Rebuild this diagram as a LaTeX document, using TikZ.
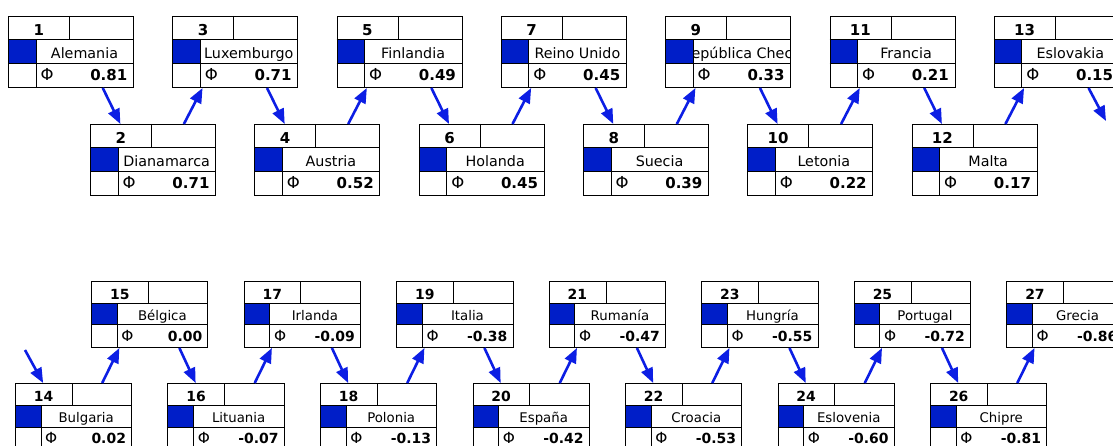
\documentclass[tikz,border=0pt]{standalone}
\usepackage{fontspec}
\setmainfont{DejaVu Sans}
\usetikzlibrary{arrows.meta,calc}
\definecolor{flagblue}{RGB}{0,30,200}
\definecolor{linkblue}{RGB}{12,30,228}
\tikzset{
  box/.style={draw, line width=1pt, anchor=north west, minimum width=125pt, minimum height=71pt, inner sep=0pt},
  cell/.style={line width=1pt},
  num/.style={font=\fontsize{15}{17}\selectfont\bfseries, anchor=base, inner sep=0pt},
  land/.style={font=\fontsize{14.3}{17}\selectfont, anchor=base, inner sep=0pt},
  phi/.style={font=\fontsize{16.5}{18}\selectfont, anchor=base, inner sep=0pt},
  score/.style={font=\fontsize{15}{17}\selectfont\bfseries, anchor=base east, inner sep=0pt},
  link/.style={draw=linkblue, line width=2.6pt, -{Triangle[length=15pt,width=12pt]}},
}
% #1 node name, #2 top left corner, #3 rank, #4 country, #5 value
\newcommand{\country}[5]{%
  \begin{scope}[shift={#2}]
    \fill[flagblue] (0,23.7) rectangle (28,47.3);
    \node[box] (#1) at (0,0) {};
    \draw[cell] (0,23.7) -- (125,23.7) (0,47.3) -- (125,47.3)
      (61.5,0) -- (61.5,23.7) (28,23.7) -- (28,71);
    \node[num] at (30.75,19.5) {#3};
    \begin{scope}
      \clip (28,23.7) rectangle (125,47.3);
      \node[land] at (76.5,42.3) {#4};
    \end{scope}
    \node[phi] at (39,65) {Φ};
    \node[score] at (119.5,65) {#5};
  \end{scope}}

\begin{document}
\begin{tikzpicture}[x=1pt,y=-1pt]
  \useasboundingbox (0,0) rectangle (1113,446);
  \clip (0,0) rectangle (1113,446);
  % upper half
  \begin{scope}[shift={(8,16)}]
    \foreach \n/\cname/\sc in {1/Alemania/0.81, 2/Dianamarca/0.71, 3/Luxemburgo/0.71,
        4/Austria/0.52, 5/Finlandia/0.49, 6/Holanda/0.45, 7/Reino Unido/0.45,
        8/Suecia/0.39, 9/República Checa/0.33, 10/Letonia/0.22, 11/Francia/0.21,
        12/Malta/0.17, 13/Eslovakia/0.15}{
      \pgfmathsetmacro\px{82.15*(\n-1)}
      \pgfmathsetmacro\py{mod(\n,2)==1 ? 0 : 108}
      \country{b\n}{(\px,\py)}{\n}{\cname}{\sc}
    }
  \end{scope}
  % lower half, a bit smaller
  \begin{scope}[shift={(15,281)}, scale=0.93, transform shape]
    \foreach \n/\cname/\sc in {14/Bulgaria/0.02, 15/Bélgica/0.00, 16/Lituania/-0.07,
        17/Irlanda/-0.09, 18/Polonia/-0.13, 19/Italia/-0.38, 20/España/-0.42,
        21/Rumanía/-0.47, 22/Croacia/-0.53, 23/Hungría/-0.55, 24/Eslovenia/-0.60,
        25/Portugal/-0.72, 26/Chipre/-0.81, 27/Grecia/-0.86}{
      \pgfmathsetmacro\px{82*(\n-14)}
      \pgfmathsetmacro\py{mod(\n,2)==1 ? 0 : 109.7}
      \country{b\n}{(\px,\py)}{\n}{\cname}{\sc}
    }
  \end{scope}
  % links
  \foreach \a in {1,...,26}{
    \pgfmathtruncatemacro\nxt{\a+1}
    \ifnum\a=13\else
      \ifodd\a\relax
        \draw[link] ($(b\a.south west)!.752!(b\a.south east)$) -- ($(b\nxt.north west)!.24!(b\nxt.north east)$);
      \else
        \draw[link] ($(b\a.north west)!.744!(b\a.north east)$) -- ($(b\nxt.south west)!.24!(b\nxt.south east)$);
      \fi
    \fi
  }
  \coordinate (out13) at (1106,121);
  \coordinate (in14) at (25,350);
  \draw[link] ($(b13.south west)!.752!(b13.south east)$) -- (out13);
  \draw[link] (in14) -- ($(b14.north west)!.24!(b14.north east)$);
\end{tikzpicture}
\end{document}
